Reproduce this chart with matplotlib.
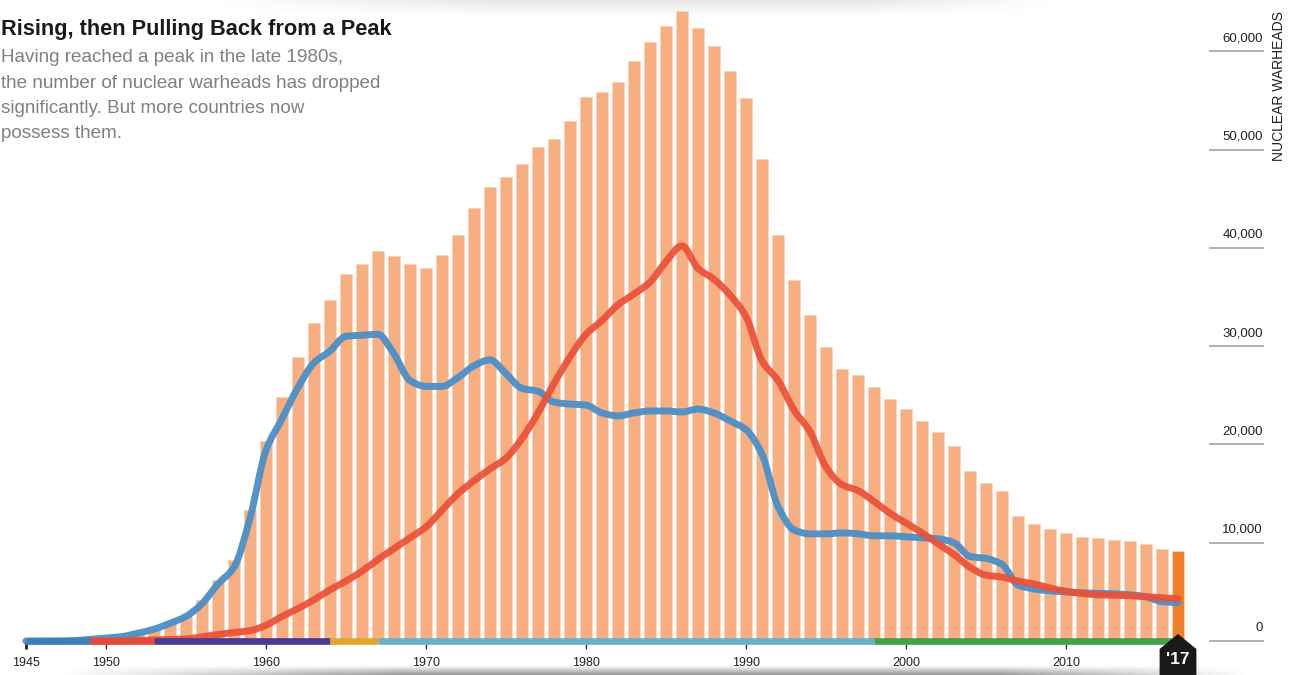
import numpy as np
import matplotlib
matplotlib.use("Agg")
import matplotlib.pyplot as plt
from matplotlib.patches import Polygon, PathPatch
from matplotlib.path import Path
import matplotlib.transforms as mtransforms

# total warheads per year (all countries)
years = list(range(1945, 2018))
total = [2, 9, 13, 50, 170, 300, 450, 800, 1200, 1800,
         2500, 4200, 6200, 8200, 13300, 20300, 24800, 28900, 32400, 34700,
         37300, 38400, 39700, 39200, 38400, 37900, 39300, 41300, 44000, 46200,
         47200, 48500, 50300, 51100, 52900, 55300, 55900, 56900, 59000, 60900,
         62600, 64100, 62400, 60500, 58000, 55200, 49000, 41300, 36700, 33200,
         29900, 27700, 27100, 25800, 24600, 23600, 22400, 21300, 19800, 17300,
         16100, 15300, 12700, 11900, 11400, 11000, 10600, 10500, 10300, 10200,
         9900, 9400, 9200]

# United States (blue line)
us = [2, 9, 13, 50, 170, 300, 450, 800, 1200, 1800,
      2500, 3800, 5800, 7500, 12500, 19400, 22600, 25800, 28300, 29500,
      31000, 31100, 31200, 29200, 26500, 25900, 25900, 26800, 28000, 28600,
      27200, 25700, 25400, 24300, 24100, 24000, 23200, 22900, 23200, 23400,
      23400, 23300, 23600, 23200, 22400, 21500, 19000, 13700, 11300, 10900,
      10900, 11000, 10900, 10700, 10700, 10600, 10500, 10400, 10000, 8600,
      8400, 7800, 5700, 5300, 5100, 5000, 4900, 4850, 4800, 4700,
      4500, 4000, 3900]

# Soviet Union / Russia (red line), from 1949
ru_years = list(range(1949, 2018))
russia = [1, 5, 30, 50, 120, 150, 200, 430, 660, 870,
          1050, 1600, 2500, 3300, 4200, 5200, 6100, 7100, 8300, 9400,
          10500, 11600, 13300, 15000, 16300, 17500, 18600, 20600, 23200, 26200,
          28900, 31200, 32600, 34200, 35300, 36500, 38600, 40200, 37900, 36800,
          35200, 33000, 28500, 26500, 23500, 21300, 17700, 15900, 15300, 14200,
          13000, 12000, 11000, 9900, 8800, 7500, 6700, 6500, 6100, 5800,
          5400, 5050, 4850, 4700, 4650, 4600, 4500, 4400, 4300]

# nuclear club bands along the baseline
band_start = [1945, 1949, 1953, 1964, 1967, 1998]
band_end = [1949, 1953, 1964, 1967, 1998, 2016.6]
band_colors = ["#3f7fb8", "#e8483a", "#4b3a8f", "#e2a72e", "#6aafc9", "#45a24a"]

xticks = [1945, 1950, 1960, 1970, 1980, 1990, 2000, 2010]
yticks = [0, 10000, 20000, 30000, 40000, 50000, 60000]


def smooth_path(x, y):
    # monotone cubic (Fritsch-Carlson) rendered as Bezier segments
    x = np.asarray(x, float)
    y = np.asarray(y, float)
    h = np.diff(x)
    d = np.diff(y) / h
    m = np.zeros_like(y)
    m[0], m[-1] = d[0], d[-1]
    for i in range(1, len(y) - 1):
        if d[i - 1] * d[i] <= 0:
            m[i] = 0
        else:
            m[i] = 2 / (1 / d[i - 1] + 1 / d[i])
    verts = [(x[0], y[0])]
    codes = [Path.MOVETO]
    for i in range(len(x) - 1):
        verts += [(x[i] + h[i] / 3, y[i] + m[i] * h[i] / 3),
                  (x[i + 1] - h[i] / 3, y[i + 1] - m[i + 1] * h[i] / 3),
                  (x[i + 1], y[i + 1])]
        codes += [Path.CURVE4] * 3
    return Path(verts, codes)


W, H = 1295, 675
fig = plt.figure(figsize=(W / 100, H / 100), dpi=100)

# soft page shadows top and bottom
shade = np.zeros((H, W, 4))
xs = np.arange(W)
bot_h = np.clip((xs - 60) / 340, 0, 1) * np.clip((1250 - xs) / 250, 0, 1)
for r in range(665, H):
    shade[r, :, 3] = 0.45 * ((r - 665) / (H - 665)) * bot_h
top_h = np.clip((xs - 200) / 300, 0, 1) * np.clip((1060 - xs) / 200, 0, 1)
for r in range(0, 16):
    shade[r, :, 3] = np.maximum(shade[r, :, 3], 0.10 * (1 - r / 16) * top_h)
bg = fig.add_axes([0, 0, 1, 1], zorder=0)
bg.imshow(shade, aspect="auto", interpolation="bilinear")
bg.axis("off")

ax = fig.add_axes([0, 0, 1, 1], zorder=1)
ax.patch.set_alpha(0)
# 16 px per year, 1945 at x=26 px; 0 at y=641 px, 98.3 px per 10k
ax.set_xlim(1945 - 26 / 16, 1945 + (W - 26) / 16)
ax.set_ylim(-(H - 641) / 98.3 * 10000, 641 / 98.3 * 10000)

bar_colors = ["#f7ae80"] * (len(years) - 1) + ["#f07f2a"]
ax.bar(years, total, width=0.8, color=bar_colors, edgecolor="#fbd3b8",
       linewidth=0.6, zorder=1)

for xx, yy, col, a, z in [(years, us, "#4a8fc7", 0.95, 4),
                          (ru_years, russia, "#eb5038", 0.92, 5)]:
    ax.add_patch(PathPatch(smooth_path(xx, yy), fill=False, edgecolor=col,
                           lw=5, capstyle="round", joinstyle="round",
                           alpha=a, zorder=z))

for s, e, c in zip(band_start, band_end, band_colors):
    ax.plot([s, e], [0, 0], color=c, lw=4.8, solid_capstyle="butt", zorder=6)

# x axis ticks on the zero line
for sp in ax.spines.values():
    sp.set_visible(False)
ax.spines["bottom"].set_position(("data", 0))
ax.set_xticks(xticks)
ax.set_xticklabels([str(t) for t in xticks])
ax.set_yticks([])
ax.tick_params(axis="x", direction="out", length=5.5, width=0.9, color="#222222",
               pad=6, labelsize=9, labelcolor="#222222")
for lab in ax.get_xticklabels():
    lab.set_fontfamily("Liberation Sans")
ax.xaxis.get_major_ticks()[0].tick1line.set_markeredgewidth(2)

# right-hand scale
gx0, gx1 = 1945 + (1210 - 26) / 16, 1945 + (1263 - 26) / 16
for v in yticks:
    ax.plot([gx0, gx1], [v, v], color="#aaaaaa", lw=1.3, clip_on=False)
    ax.text(gx1, v + 700, f"{v:,}", ha="right", va="bottom", fontsize=9.5,
            family="Liberation Sans", color="#222222")
fig.text(1279 / W, 1 - 11 / H, "NUCLEAR WARHEADS", rotation=90, ha="center",
         va="top", fontsize=10, family="Liberation Sans", color="#222222")

# '17 marker
trans = mtransforms.blended_transform_factory(ax.transData, ax.transAxes)
bx = 2017.0
badge = Polygon([(bx - 1.15, 0), (bx - 1.15, (675 - 649) / 675),
                 (bx, (675 - 634) / 675), (bx + 1.15, (675 - 649) / 675),
                 (bx + 1.15, 0)], closed=True, facecolor="#1a1a1a",
                transform=trans, zorder=7, clip_on=False)
ax.add_patch(badge)
ax.text(bx, (675 - 660) / 675, "'17", transform=trans, ha="center",
        va="center", color="white", fontsize=12.5, fontweight="bold",
        family="Liberation Sans", zorder=8)

# title and subtitle
fig.text(1 / W, 1 - 35 / H, "Rising, then Pulling Back from a Peak",
         fontsize=15.7, fontweight="bold", family="Liberation Sans",
         color="#1a1a1a", va="baseline")
sub = ["Having reached a peak in the late 1980s,",
       "the number of nuclear warheads has dropped",
       "significantly. But more countries now",
       "possess them."]
for i, line in enumerate(sub):
    fig.text(1 / W, 1 - (62 + 25.5 * i) / H, line, fontsize=13.6,
             family="Liberation Sans", color="#808080", va="baseline")

fig.savefig("out.png", dpi=100)
